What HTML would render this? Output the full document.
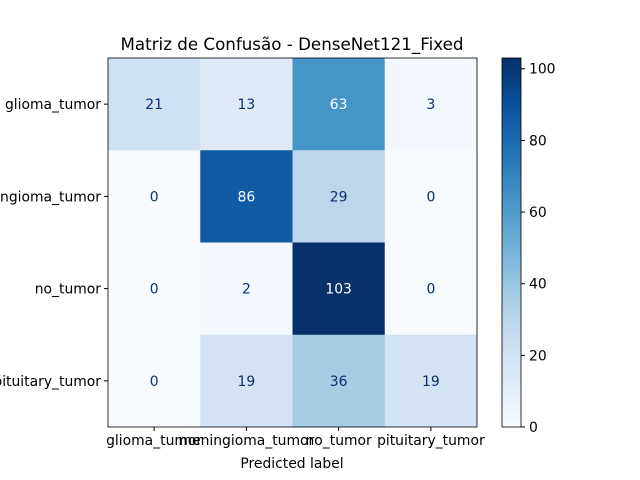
<!DOCTYPE html>
<html><head><meta charset="utf-8"><style>
body{margin:0;background:#fff}
svg{display:block;font-family:"DejaVu Sans","Liberation Sans",sans-serif}
</style></head><body>
<svg id="chart" width="640" height="480" viewBox="0 0 640 480">
<rect width="640" height="480" fill="#fff"/>
<text x="292" y="50" text-anchor="middle" font-size="16.7" fill="#000">Matriz de Confusão - DenseNet121_Fixed</text>
<g id="cells"></g>
<g id="xticks"></g>
<g id="yticks"></g>
<text x="292" y="468" text-anchor="middle" font-size="13.9">Predicted label</text>
<defs><linearGradient id="blues" x1="0" y1="1" x2="0" y2="0">
<stop offset="0" stop-color="#f7fbff"/><stop offset="0.125" stop-color="#deebf7"/><stop offset="0.25" stop-color="#c6dbef"/><stop offset="0.375" stop-color="#9ecae1"/><stop offset="0.5" stop-color="#6baed6"/><stop offset="0.625" stop-color="#4292c6"/><stop offset="0.75" stop-color="#2171b5"/><stop offset="0.875" stop-color="#08519c"/><stop offset="1" stop-color="#08306b"/>
</linearGradient></defs>
<rect x="502" y="58" width="19" height="369" fill="url(#blues)" stroke="#000" stroke-width="0.8"/>
<g id="cbticks"></g>
</svg>
<script>
const labels=["glioma_tumor","meningioma_tumor","no_tumor","pituitary_tumor"];
const matrix=[[21,13,63,3],[0,86,29,0],[0,2,103,0],[0,19,36,19]];
const cbTicks=[0,20,40,60,80,100];
const vmin=0,vmax=103;
const X0=108,Y0=58,S=369,n=labels.length,c=S/n;
const stops=[[247,251,255],[222,235,247],[198,219,239],[158,202,225],[107,174,214],[66,146,198],[33,113,181],[8,81,156],[8,48,107]];
function col(v){let t=(v-vmin)/(vmax-vmin)*8;let i=Math.min(7,Math.floor(t)),f=t-i;const a=stops[i],b=stops[i+1];return `rgb(${a.map((x,k)=>Math.round(x+(b[k]-x)*f)).join(",")})`;}
const NS="http://www.w3.org/2000/svg";
function mk(tag,attrs,parent){const e=document.createElementNS(NS,tag);for(const k in attrs)e.setAttribute(k,attrs[k]);parent.appendChild(e);return e;}
const cells=document.getElementById('cells');
matrix.forEach((row,i)=>row.forEach((v,j)=>{
 const r=mk('rect',{x:X0+j*c,y:Y0+i*c,width:c+0.5,height:c+0.5,fill:col(v)},cells);
 
 
 const t=mk('text',{x:X0+(j+.5)*c,y:Y0+(i+.5)*c+5,'text-anchor':'middle','font-size':13.9,fill:v>(vmax+vmin)/2?'#fff':'#08306b'},cells);
 t.textContent=v;
 
 
}));
mk('rect',{x:X0,y:Y0,width:S,height:S,fill:'none',stroke:'#000','stroke-width':0.8},cells);
const xt=document.getElementById('xticks'),yt=document.getElementById('yticks');
labels.forEach((l,k)=>{
 const x=X0+(k+.5)*c;
 mk('line',{x1:x,x2:x,y1:Y0+S,y2:Y0+S+4,stroke:'#000'},xt);
 const t=mk('text',{x:x,y:Y0+S+18,'text-anchor':'middle','font-size':13.9},xt);t.textContent=l;
 
 
 const y=Y0+(k+.5)*c;
 mk('line',{x1:X0-4,x2:X0,y1:y,y2:y,stroke:'#000'},yt);
 const u=mk('text',{x:X0-7,y:y+5,'text-anchor':'end','font-size':13.9},yt);u.textContent=l;
 
 
});
const cb=document.getElementById('cbticks');
cbTicks.forEach(v=>{
 const y=Y0+S-(v-vmin)/(vmax-vmin)*S;
 mk('line',{x1:521,x2:525,y1:y,y2:y,stroke:'#000'},cb);
 const t=mk('text',{x:529,y:y+5,'font-size':13.9},cb);t.textContent=v;
 
 
});
</script>
</body></html>
